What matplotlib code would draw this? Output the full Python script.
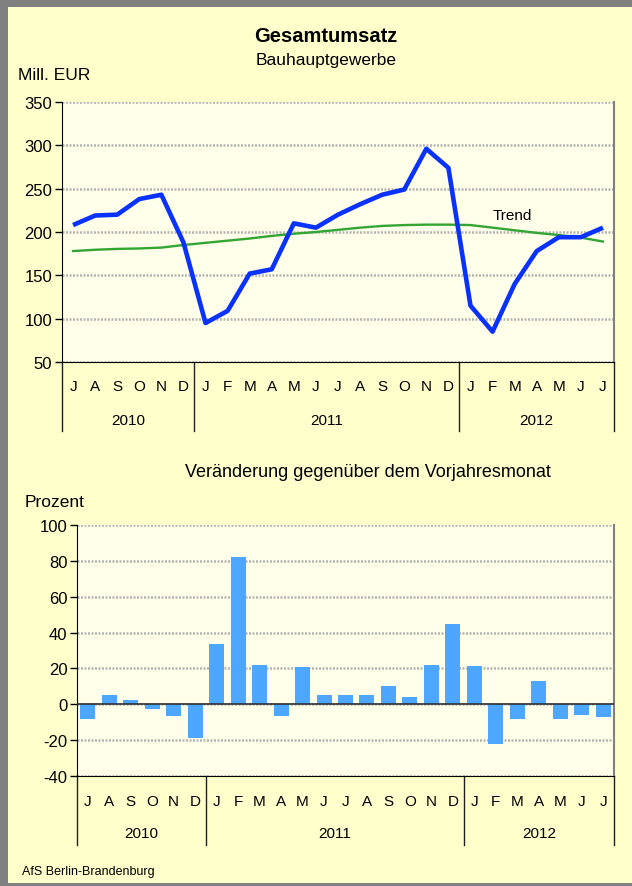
import matplotlib
matplotlib.use('Agg')
import matplotlib.pyplot as plt
from matplotlib.patches import Rectangle

plt.rcParams['font.family'] = ['Liberation Sans', 'DejaVu Sans']
plt.rcParams['axes.unicode_minus'] = False

# Monate Juli 2010 - Juli 2012
monate = ['J', 'A', 'S', 'O', 'N', 'D',
          'J', 'F', 'M', 'A', 'M', 'J', 'J', 'A', 'S', 'O', 'N', 'D',
          'J', 'F', 'M', 'A', 'M', 'J', 'J']
jahre = ['2010', '2011', '2012']
jahr_grenzen = [-0.5, 5.5, 17.5, 24.5]

# Gesamtumsatz Mill. EUR
umsatz = [208, 219, 220, 238, 243, 188, 95, 109, 152, 157, 210, 205,
          220, 232, 243, 249, 296, 274, 115, 85, 140, 178, 194, 194, 205]
trend = [178, 179.5, 180.5, 181, 182, 185, 187.5, 190, 192.5, 195.5, 198, 200,
         202.5, 205, 207, 208, 208.5, 208.5, 208, 205, 202, 199, 196.5, 193.5, 189]

# Veraenderung gegenueber dem Vorjahresmonat in Prozent
veraenderung = [-8, 5.4, 2.6, -2.4, -6.3, -18.7, 33.8, 82.2, 21.7, -6.3, 21, 5.4,
                5.4, 5.4, 10.4, 4.3, 22, 44.9, 21.5, -22.4, -8, 13.2, -8, -5.8, -6.9]

W, H = 632, 887
fig = plt.figure(figsize=(W / 100, H / 100), dpi=100)
fig.patch.set_facecolor('#808080')
fig.add_artist(Rectangle((8 / W, 3 / H), 1, 1 - 11 / H, transform=fig.transFigure,
                         facecolor='#FFFFCC', edgecolor='none', zorder=0))


def px_axes(l, t, r, b):
    return fig.add_axes([l / W, 1 - b / H, (r - l) / W, (b - t) / H])


def kategorien(ax, hoehe, y_monat, y_jahr, y_linie):
    tr = ax.get_xaxis_transform()
    for i, m in enumerate(monate):
        ax.text(i, -y_monat / hoehe, m, transform=tr, ha='center', va='center', fontsize=11)
    for k, j in enumerate(jahre):
        mitte = (jahr_grenzen[k] + jahr_grenzen[k + 1]) / 2
        ax.text(mitte, -y_jahr / hoehe, j, transform=tr, ha='center', va='center', fontsize=11)
    for g in jahr_grenzen:
        ax.plot([g, g], [0, -y_linie / hoehe], transform=tr, color='#202020', lw=1, clip_on=False)


def stil(ax):
    ax.set_facecolor('#FFFFEA')
    ax.set_axisbelow(True)
    ax.yaxis.grid(True, linestyle=(0, (0.8, 0.6)), color='#B4B4B4', lw=1.8)
    ax.spines['top'].set_visible(False)
    ax.spines['right'].set_color('#808080')
    ax.spines['right'].set_linewidth(1.5)
    ax.spines['left'].set_color('black')
    ax.spines['bottom'].set_color('black')
    ax.set_xticks([])
    ax.tick_params(axis='y', length=5, width=1, pad=2, labelsize=12)
    ax.set_xlim(-0.5, 24.5)


x = list(range(len(monate)))

# oberes Diagramm
ax1 = px_axes(62, 103, 614, 363)
stil(ax1)
ax1.plot(x, trend, color='#33A532', lw=1.7, zorder=3)
ax1.plot(x, umsatz, color='#0A32FF', lw=3.3, zorder=4, solid_capstyle='butt')
ax1.set_ylim(50, 350)
ax1.set_yticks(range(50, 351, 50))
ax1.text(19.0, 220, 'Trend', ha='left', va='center', fontsize=11)
kategorien(ax1, 260, 24, 58, 69)

fig.text(326 / W, 1 - 42 / H, 'Gesamtumsatz', ha='center', va='baseline',
         fontsize=14.5, fontweight='bold')
fig.text(326 / W, 1 - 65 / H, 'Bauhauptgewerbe', ha='center', va='baseline', fontsize=12.5)
fig.text(18 / W, 1 - 80 / H, 'Mill. EUR', ha='left', va='baseline', fontsize=12.5)

# unteres Diagramm
ax2 = px_axes(77, 526, 614, 777)
stil(ax2)
ax2.bar(x, veraenderung, width=0.7, color='#4DA6FF', zorder=2)
ax2.axhline(0, color='#303030', lw=1.2, zorder=3)
ax2.set_ylim(-40, 100)
ax2.set_yticks(range(-40, 101, 20))
kategorien(ax2, 251, 25, 57, 69)

fig.text(368 / W, 1 - 477 / H, 'Veränderung gegenüber dem Vorjahresmonat',
         ha='center', va='baseline', fontsize=13)
fig.text(25 / W, 1 - 507 / H, 'Prozent', ha='left', va='baseline', fontsize=12.5)
fig.text(22 / W, 1 - 875 / H, 'AfS Berlin-Brandenburg', ha='left', va='baseline', fontsize=9)

fig.savefig('out.png', dpi=100, facecolor=fig.get_facecolor())
